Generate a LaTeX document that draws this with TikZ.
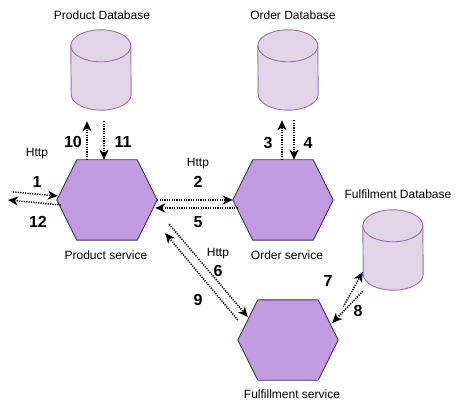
\documentclass[tikz,border=0pt]{standalone}
\usepackage{fontspec}
\setmainfont{Liberation Sans}
\usetikzlibrary{arrows.meta}
\definecolor{svcfill}{HTML}{C19CE1}
\definecolor{svcline}{HTML}{432D57}
\definecolor{dbfill}{HTML}{E1D5E7}
\definecolor{dbline}{HTML}{9673A6}

\begin{document}
\begin{tikzpicture}[x=1pt,y=1pt,
    svc/.style={minimum width=100pt,minimum height=80pt,inner sep=0pt},
    db/.style={minimum width=60pt,minimum height=80pt,inner sep=0pt},
    lbl/.style={font=\fontsize{12}{14}\selectfont},
    num/.style={font=\fontsize{16}{19}\selectfont\bfseries},
    call/.style={line width=1.5pt,dash pattern=on 1.2pt off 1.2pt,
      -{Stealth[length=10pt,width=9pt,inset=3pt]}}]
    \useasboundingbox (0,0) rectangle (463,410);
    % Services and databases
    \node[svc] (prod) at (107,210) {};
    \node[svc] (ord) at (283,210) {};
    \node[svc] (ful) at (288,70) {};
    \node[db] (pdb) at (101,340) {};
    \node[db] (odb) at (288,340) {};
    \node[db] (fdb) at (393,160) {};
    \foreach \n in {prod,ord,ful}
      \draw[svcline,fill=svcfill,line width=0.9pt] (\n.west) -- ([xshift=20pt]\n.north west)
        -- ([xshift=-20pt]\n.north east) -- (\n.east) -- ([xshift=-20pt]\n.south east)
        -- ([xshift=20pt]\n.south west) -- cycle;
    \foreach \n in {pdb,odb,fdb} {
      \draw[dbline,fill=dbfill,line width=0.9pt] ([yshift=-16pt]\n.north west)
        arc[start angle=180,end angle=0,x radius=30pt,y radius=16pt]
        -- ([yshift=16pt]\n.south east)
        arc[start angle=0,end angle=-180,x radius=30pt,y radius=16pt] -- cycle;
      \draw[dbline,line width=0.9pt] ([yshift=-16pt]\n.north west)
        arc[start angle=180,end angle=360,x radius=30pt,y radius=16pt];
    }
    % Names
    \node[lbl] (pdbname) at (102,395) {Product Database};
    \node[lbl] (odbname) at (293,395) {Order Database};
    \node[lbl] (fdbname) at (398,216) {Fulfilment Database};
    \node[lbl] (prodname) at (106,155) {Product service};
    \node[lbl] (ordname) at (287,155) {Order service};
    \node[lbl] (fulname) at (292,16) {Fulfillment service};
    % Calls
    \coordinate (client) at (13,218);
    \coordinate (reply) at (8,210);
    \draw[call] (client) -- ([xshift=1pt,yshift=4pt]prod.west);
    \draw[call] ([xshift=4pt,yshift=-5pt]prod.west) -- (reply);
    \draw[call] (prod.east) -- (ord.west);
    \draw[call] ([xshift=5pt,yshift=-8pt]ord.west) -- ([xshift=-2pt,yshift=-8pt]prod.east);
    \draw[call] ([xshift=-1pt]ord.north) -- ([xshift=-6pt,yshift=-10pt]odb.south);
    \draw[call] ([xshift=6pt,yshift=-10pt]odb.south) -- ([xshift=11pt]ord.north);
    \draw[call] ([xshift=12pt,yshift=16pt]prod.south east) -- ([xshift=10pt,yshift=23pt]ful.west);
    \draw[call] ([xshift=5pt,yshift=-7pt]ful.north east) -- ([yshift=-22pt]fdb.west);
    \draw[call] ([yshift=-1pt]fdb.south west) -- ([xshift=-6pt,yshift=17pt]ful.east);
    \draw[call] ([yshift=20pt]ful.west) -- ([xshift=8pt,yshift=7pt]prod.south east);
    \draw[call] ([xshift=3pt,yshift=-11pt]pdb.south) -- ([xshift=-3pt]prod.north);
    \draw[call] ([xshift=-20pt]prod.north) -- ([xshift=-14pt,yshift=-11pt]pdb.south);
    % Labels
    \node[lbl] (http1) at (37,256) {Http};
    \node[lbl] (http2) at (198,246) {Http};
    \node[lbl] (http6) at (218,156) {Http};
    \node[num] (n1) at (37,228) {1};
    \node[num] (n2) at (198,228) {2};
    \node[num] (n3) at (268,267) {3};
    \node[num] (n4) at (308,267) {4};
    \node[num] (n5) at (198,188) {5};
    \node[num] (n6) at (218,139) {6};
    \node[num] (n7) at (328,129) {7};
    \node[num] (n8) at (358,99) {8};
    \node[num] (n9) at (198,110) {9};
    \node[num] (n10) at (73,268) {10};
    \node[num] (n11) at (123,268) {11};
    \node[num] (n12) at (38,188) {12};
\end{tikzpicture}
\end{document}
